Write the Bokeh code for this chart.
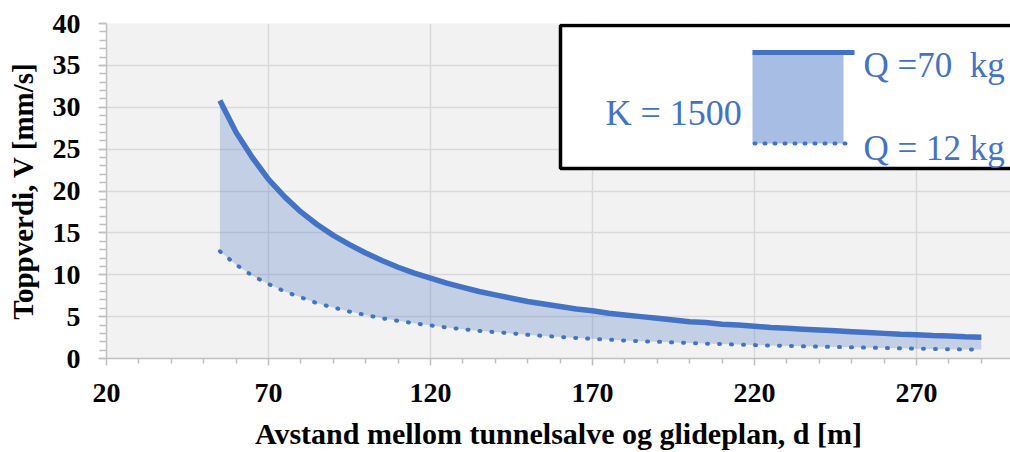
from bokeh.plotting import figure
from bokeh.models import (Range1d, FixedTicker, SingleIntervalTicker, BoxAnnotation,
                          Arrow, Label, ColumnDataSource)
from bokeh.embed import file_html
from bokeh.resources import INLINE

# ---- data ----
d_m = [55, 60, 65, 70, 75, 80, 85, 90, 95, 100, 105, 110, 115, 120, 125, 130,
       135, 140, 145, 150, 155, 160, 165, 170, 175, 180, 185, 190, 195, 200,
       205, 210, 215, 220, 225, 230, 235, 240, 245, 250, 255, 260, 265, 270,
       275, 280, 285, 290]
v_q70 = [30.8, 27.0, 24.0, 21.4, 19.3, 17.5, 16.0, 14.7, 13.6, 12.6, 11.7, 10.9,
         10.2, 9.6, 9.0, 8.5, 8.0, 7.6, 7.2, 6.8, 6.5, 6.2, 5.9, 5.7, 5.4, 5.2,
         5.0, 4.8, 4.6, 4.4, 4.3, 4.1, 4.0, 3.85, 3.7, 3.6, 3.5, 3.4, 3.3, 3.2,
         3.1, 3.0, 2.9, 2.83, 2.75, 2.68, 2.61, 2.55]
v_q12 = [12.8, 11.2, 9.9, 8.9, 8.0, 7.3, 6.6, 6.1, 5.6, 5.2, 4.8, 4.5, 4.2,
         3.95, 3.7, 3.5, 3.3, 3.15, 3.0, 2.83, 2.7, 2.57, 2.45, 2.35, 2.25, 2.15,
         2.07, 2.0, 1.92, 1.85, 1.78, 1.72, 1.66, 1.6, 1.55, 1.5, 1.45, 1.41,
         1.37, 1.33, 1.29, 1.25, 1.21, 1.17, 1.14, 1.11, 1.08, 1.06]
x_ticks = [20, 70, 120, 170, 220, 270]
x_minor = [30, 40, 50, 60, 80, 90, 100, 110, 130, 140, 150, 160, 180, 190, 200,
           210, 230, 240, 250, 260, 280, 290]

BLUE = "#4472C4"
SERIF = "Liberation Serif"

src = ColumnDataSource(dict(d=d_m, v70=v_q70, v12=v_q12))

p = figure(width=1010, height=452, output_backend="svg", toolbar_location=None,
           x_range=Range1d(20, 299), y_range=Range1d(0, 40),
           min_border_left=106, min_border_right=0, min_border_top=23,
           min_border_bottom=94)
p.background_fill_color = "#f2f2f2"
p.border_fill_color = "white"
p.outline_line_color = None

# axes
xa, ya = p.xaxis[0], p.yaxis[0]
xa.ticker = FixedTicker(ticks=x_ticks, minor_ticks=x_minor)
ya.ticker = SingleIntervalTicker(interval=5, num_minor_ticks=5)
for ax in (xa, ya):
    ax.axis_line_color = "#bfbfbf"
    ax.axis_line_width = 1.5
    ax.major_tick_line_color = "#bfbfbf"
    ax.minor_tick_line_color = "#bfbfbf"
    ax.major_tick_line_width = 1.5
    ax.minor_tick_line_width = 1.5
    ax.major_tick_in = 0
    ax.minor_tick_in = 0
    ax.major_label_text_font = SERIF
    ax.major_label_text_font_style = "bold"
    ax.major_label_text_font_size = "28px"
    ax.major_label_text_color = "black"
    ax.axis_label_text_font = SERIF
    ax.axis_label_text_font_style = "bold"
    ax.axis_label_text_color = "black"
xa.axis_label_text_font_size = "30px"
ya.axis_label_text_font_size = "29px"
xa.major_tick_out = 7
xa.minor_tick_out = 5
xa.major_label_standoff = 18
xa.axis_label = "Avstand mellom tunnelsalve og glideplan, d [m]"
xa.axis_label_standoff = 12
ya.major_tick_out = 8
ya.minor_tick_out = 7
ya.major_label_standoff = 18
ya.axis_label = "Toppverdi, V [mm/s]"
ya.axis_label_standoff = 11

p.xgrid.ticker = xa.ticker
p.xgrid.grid_line_color = "#d9d9d9"
p.ygrid.grid_line_color = "#d9d9d9"
p.xgrid.grid_line_width = 1.5
p.ygrid.grid_line_width = 1.5

# data marks
p.varea(x="d", y1="v12", y2="v70", source=src, fill_color=BLUE, fill_alpha=0.27)
p.line(x="d", y="v70", source=src, line_color=BLUE, line_width=5.5)
p.line(x="d", y="v12", source=src, line_color=BLUE, line_width=4,
       line_dash="1 11", line_cap="round")

# custom legend box (screen units, relative to the plot frame)
p.add_layout(BoxAnnotation(left=454, right=908, bottom=190, top=333,
                           left_units="screen", right_units="screen",
                           bottom_units="screen", top_units="screen",
                           fill_color="white", fill_alpha=1.0,
                           line_color="black", line_alpha=1.0, line_width=3.5,
                           level="overlay"))
p.add_layout(BoxAnnotation(left=646, right=737, bottom=215, top=306,
                           left_units="screen", right_units="screen",
                           bottom_units="screen", top_units="screen",
                           fill_color=BLUE, fill_alpha=0.47, line_alpha=0,
                           level="overlay"))
p.add_layout(Arrow(end=None, x_start=646, y_start=306, x_end=748, y_end=306,
                   start_units="screen", end_units="screen",
                   line_color=BLUE, line_width=5, level="overlay"))
p.add_layout(Arrow(end=None, x_start=648, y_start=215, x_end=748, y_end=215,
                   start_units="screen", end_units="screen",
                   line_color=BLUE, line_width=4, line_dash="1 9",
                   line_cap="round", level="overlay"))
for txt, sx, sy, size in [("K = 1500", 499, 246, "36px"),
                          ("Q =70\u00a0 kg", 757, 293, "35px"),
                          ("Q = 12 kg", 757, 210, "35px")]:
    p.add_layout(Label(x=sx, y=sy, x_units="screen", y_units="screen", text=txt,
                       text_font=SERIF, text_font_size=size, text_color=BLUE,
                       text_baseline="alphabetic", text_align="left",
                       level="overlay"))

open("out.html", "w").write(file_html(p, INLINE))
